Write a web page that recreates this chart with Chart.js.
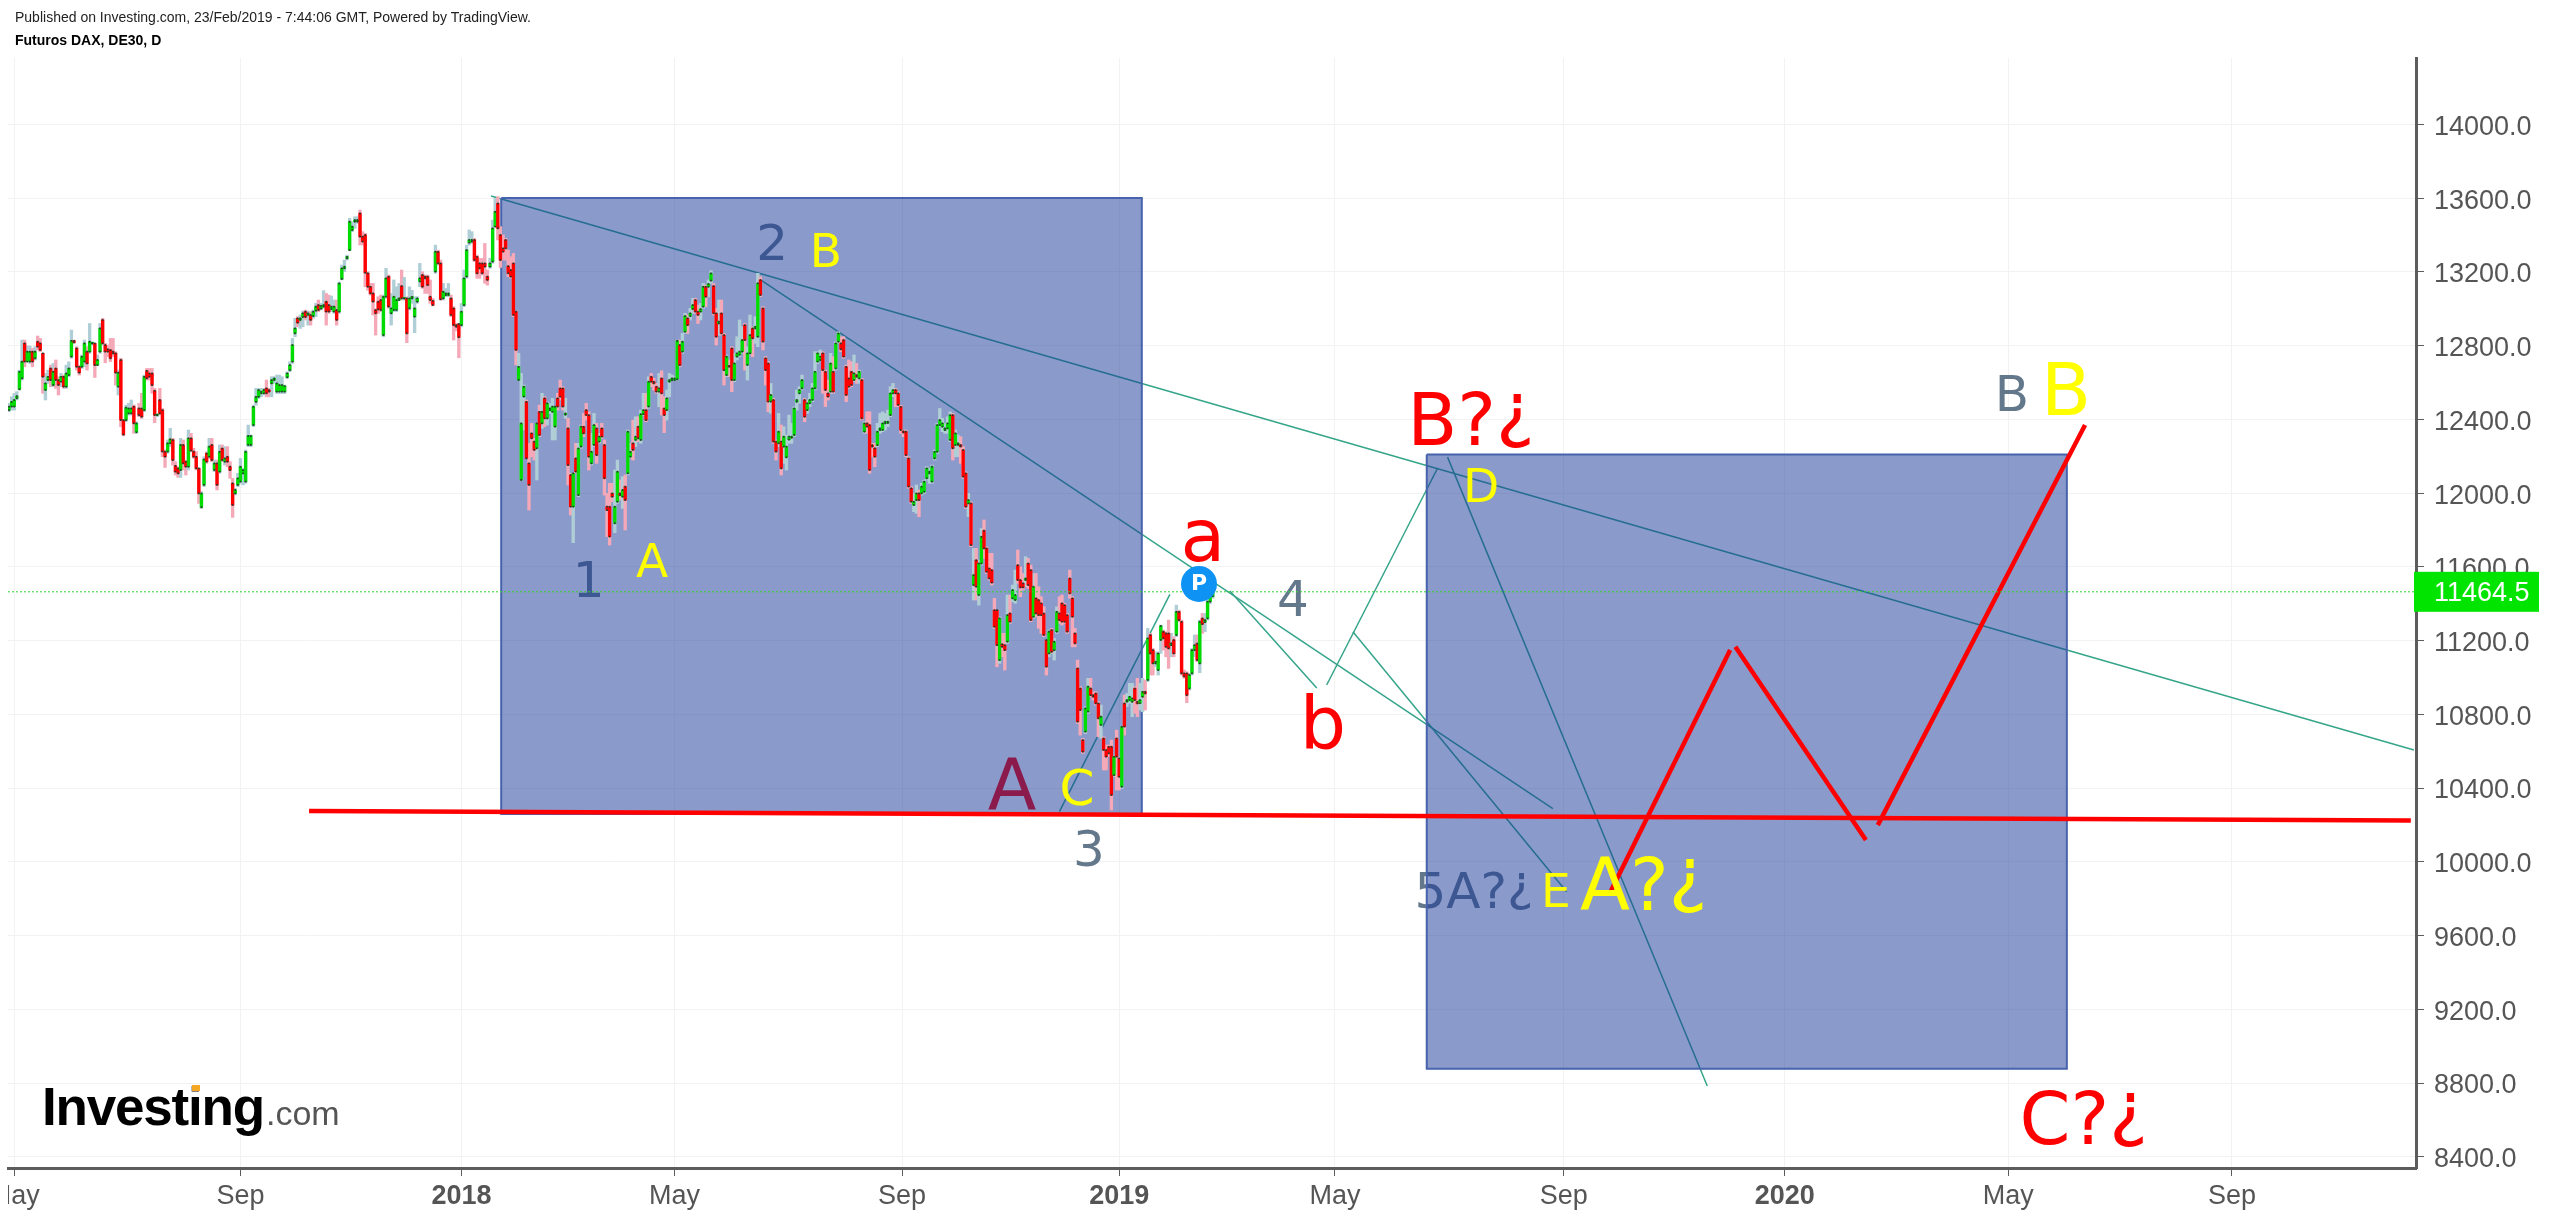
<!DOCTYPE html>
<html>
<head>
<meta charset="utf-8">
<title>Futuros DAX, DE30, D</title>
<style>
    html, body { margin: 0; padding: 0; background: #fff; overflow: hidden; }
    canvas { display: block; }
</style>
<script src="https://cdn.jsdelivr.net/npm/chart.js@4/dist/chart.umd.js"></script>
</head>
<body>
<canvas id="dax" width="2549" height="1220"></canvas>
<script>
'use strict';

// daily bars as [open, high, low, close]
const bars2017 = [
    [12450,12487,12441,12469],[12469,12523,12450,12495],[12469,12541,12450,12505],[12514,12550,12505,12526],[12563,12667,12559,12658],
    [12622,12830,12613,12713],[12812,12830,12685,12713],[12713,12798,12713,12767],[12713,12798,12703,12767],[12767,12785,12685,12713],
    [12731,12794,12722,12767],[12821,12852,12776,12794],[12812,12839,12767,12776],[12758,12758,12541,12631],[12559,12649,12505,12595],
    [12613,12667,12595,12631],[12676,12694,12577,12613],[12586,12703,12577,12658],[12676,12722,12568,12613],[12613,12631,12532,12586],
    [12604,12649,12577,12631],[12631,12640,12568,12577],[12577,12694,12568,12649],[12640,12712,12631,12676],[12740,12884,12731,12826],
    [12826,12830,12812,12817],[12785,12794,12667,12685],[12685,12694,12640,12653],[12685,12749,12676,12740],[12713,12830,12685,12812],
    [12767,12794,12667,12703],[12767,12920,12758,12821],[12812,12821,12803,12812],[12812,12812,12627,12694],[12694,12749,12694,12722],
    [12767,12920,12758,12893],[12939,12948,12803,12812],[12803,12812,12707,12767],[12780,12803,12740,12767],[12776,12839,12713,12731],
    [12767,12839,12740,12758],[12758,12767,12586,12653],[12577,12667,12532,12653],[12722,12731,12360,12396],[12396,12396,12310,12317],
    [12396,12477,12387,12463],[12432,12487,12423,12459],[12432,12505,12423,12459],[12469,12478,12324,12378],[12330,12387,12324,12378],
    [12459,12487,12414,12423],[12459,12541,12405,12414],[12450,12640,12441,12631],[12663,12676,12613,12622],[12649,12676,12613,12631],
    [12649,12676,12541,12586],[12555,12568,12382,12423],[12423,12432,12414,12423],[12505,12568,12423,12432],[12450,12459,12197,12225],
    [12225,12234,12139,12197],[12225,12288,12215,12270],[12270,12351,12252,12292],[12288,12297,12152,12179],[12148,12170,12098,12116],
    [12134,12143,12085,12107],[12125,12297,12085,12261],[12261,12288,12125,12161],[12170,12179,12098,12143],[12143,12342,12125,12297],
    [12297,12324,12225,12230],[12225,12243,12188,12197],[12197,12225,12125,12134],[12134,12134,11944,11998],[11923,12008,11917,11998],
    [12044,12197,12035,12183],[12215,12224,12161,12170],[12197,12297,12188,12252],[12261,12297,12170,12179],[12125,12179,12116,12161],
    [12161,12179,12017,12044],[12116,12261,12107,12224],[12242,12261,12170,12179],[12170,12252,12152,12188],[12197,12252,12143,12170],
    [12143,12170,12080,12125],[12053,12080,11868,11935],[11998,12025,11990,12017],[12044,12107,12035,12080],[12062,12188,12053,12143],
    [12107,12134,12044,12125],[12062,12234,12053,12224],[12261,12369,12252,12310],[12261,12315,12252,12310],[12369,12477,12360,12468],
    [12495,12568,12477,12522],[12522,12568,12513,12559],[12541,12568,12522,12550],[12541,12568,12532,12559],[12568,12613,12522,12541],
    [12559,12568,12522,12550],[12595,12631,12522,12613],[12613,12631,12595,12622],[12550,12640,12540,12595],[12550,12640,12540,12586],
    [12550,12631,12540,12586],[12550,12586,12540,12580],[12628,12658,12622,12649],[12667,12712,12658,12694],[12713,12839,12703,12803],
    [12866,12948,12848,12893],[12948,12957,12902,12924],[12939,12966,12893,12948],[12955,12988,12902,12975],[12984,12993,12939,12955],
    [12966,12988,12911,12975],[12966,12984,12911,12939],[12960,12993,12948,12984],[12989,13029,12957,13011],[13020,13047,12984,12993],
    [13000,13029,12993,13015],[13011,13098,13002,13020],[13038,13083,12911,12984],[13020,13074,12975,12984],[12998,13069,12984,13011],
    [12984,13047,12975,13011],[12993,13047,12911,12939],[12984,13145,12975,13137],[13161,13237,13156,13219],[13219,13264,13201,13228],
    [13273,13291,13264,13282],[13318,13490,13315,13472],[13427,13472,13418,13445],[13472,13499,13436,13481],[13472,13499,13463,13481],
    [13517,13535,13346,13391],[13391,13418,13346,13364],[13400,13409,13119,13195],[13192,13201,13100,13119],[13119,13137,13074,13083],
    [13083,13137,12966,13038],[12993,13000,12857,12975],[13038,13065,12975,12996],[13047,13074,12984,12993],[12857,13074,12848,13065],
    [13065,13219,13056,13165],[13174,13183,13002,13011],[12975,13083,12911,13002],[12993,13156,12984,13065],[12993,13119,12984,13047],
    [13047,13137,13047,13056],[13123,13210,13047,13056],[13056,13170,13047,13056],[13056,13065,12816,12866],[13002,13119,12993,13056],
    [13056,13100,13029,13065],[12957,13065,12870,13002],[13038,13065,13029,13056],[13148,13246,13119,13165],[13183,13201,13110,13119],
    [13174,13183,13083,13165],[13174,13183,13083,13128],[13065,13156,13029,13047],[13043,13056,13015,13020],[13201,13345,13192,13309],
    [13309,13318,13237,13246],[13246,13264,13047,13051],[13056,13137,13047,13092],[13074,13110,13065,13083],[13074,13137,13065,13083],
    [13056,13074,12957,12966],[13002,13011,12830,12911],[12911,12920,12880,12902],[12917,12920,12734,12845]
];
const bars2018 = [
    [12911,13029,12902,12984],[13020,13210,13011,13165],[13174,13345,13165,13318],[13358,13427,13345,13373],[13364,13418,13354,13373],
    [13373,13382,13255,13264],[13282,13291,13165,13192],[13246,13273,13165,13219],[13246,13273,13183,13192],[13246,13354,13138,13228],
    [13174,13210,13128,13156],[13228,13273,13219,13246],[13255,13481,13246,13436],[13445,13598,13445,13526],[13571,13608,13373,13436],
    [13400,13445,13224,13264],[13327,13400,13264,13309],[13373,13382,13264,13327],[13231,13318,13174,13192],[13210,13282,13165,13174],
    [13246,13300,12957,12966],[12984,12989,12695,12776],[12613,12758,12613,12685],[12071,12649,12071,12378],[12523,12586,12342,12577],
    [12495,12505,12188,12188],[12161,12270,11908,12044],[12324,12378,12197,12297],[12279,12297,12179,12234],[12243,12378,12071,12378],
    [12441,12477,12306,12315],[12378,12541,12351,12441],[12514,12523,12360,12405],[12405,12495,12369,12487],[12450,12487,12432,12459],
    [12441,12514,12288,12469],[12360,12469,12288,12469],[12514,12541,12450,12469],[12568,12613,12505,12523],[12568,12577,12450,12469],
    [12425,12514,12405,12432],[12351,12405,12044,12152],[12098,12107,11881,11926],[11926,12107,11731,12107],[12188,12270,12107,12116],
    [11989,12270,11980,12242],[12252,12369,12243,12360],[12360,12432,12306,12324],[12450,12487,12396,12423],[12423,12441,12125,12197],
    [12161,12324,12152,12224],[12261,12432,12252,12369],[12351,12378,12161,12206],[12279,12324,12270,12306],[12351,12378,12297,12306],
    [12261,12288,11989,12080],[11926,11998,11764,11908],[11926,12053,11718,11764],[11998,12053,11953,11980],[11836,12125,11785,11926],
    [11953,12179,11944,12116],[11998,12071,11962,11989],[11980,12089,11917,12017],[12035,12098,11800,11962],[12107,12342,12098,12333],
    [12197,12270,12188,12224],[12270,12396,12179,12234],[12288,12414,12252,12306],[12360,12414,12279,12297],[12288,12450,12270,12428],
    [12428,12541,12420,12450],[12450,12541,12387,12396],[12469,12631,12460,12604],[12631,12649,12577,12604],[12604,12622,12559,12595],
    [12577,12595,12541,12550],[12550,12649,12468,12568],[12622,12663,12423,12541],[12459,12523,12328,12423],[12450,12559,12396,12514],
    [12604,12649,12523,12613],[12613,12640,12613,12622],[12613,12631,12613,12622],[12617,12830,12613,12826],[12803,12830,12685,12694],
    [12767,12866,12758,12821],[12875,12975,12866,12960],[12948,12966,12866,12911],[12960,13002,12939,12975],[12998,13056,12975,13020],
    [13047,13056,12975,12984],[12984,13020,12920,12966],[12984,13029,12939,12998],[13011,13137,13002,13119],[13119,13128,13011,13065],
    [13119,13156,13065,13134],[13152,13206,13138,13192],[13123,13137,12966,12975],[12975,13002,12803,12848],[12920,13047,12857,12930],
    [12975,13047,12857,12866],[12857,12866,12586,12667],[12640,12749,12631,12740],[12690,12722,12631,12685],[12785,12794,12550,12613],
    [12613,12758,12604,12703],[12740,12848,12722,12758],[12750,12939,12740,12767],[12767,12902,12758,12830],[12911,12920,12667,12830],
    [12695,12794,12613,12758],[12758,12966,12749,12857],[12893,12902,12740,12839],[12893,12957,12812,12902],[12848,13192,12794,13138],
    [13156,13174,13065,13074],[13002,13011,12776,12821],[12731,12740,12586,12667],[12703,12713,12441,12496],[12496,12595,12432,12532],
    [12505,12514,12270,12279],[12279,12288,12179,12225],[12270,12432,12252,12333],[12279,12369,12098,12134],[12252,12360,12161,12306],
    [12194,12315,12125,12252],[12290,12423,12270,12306],[12300,12378,12270,12306],[12315,12468,12306,12459],[12495,12559,12450,12505],
    [12541,12577,12487,12559],[12568,12640,12559,12613],[12505,12514,12387,12414],[12450,12505,12432,12487],[12487,12541,12469,12505],
    [12505,12595,12496,12568],[12568,12767,12559,12658],[12713,12767,12703,12758],[12722,12776,12722,12740],[12758,12767,12541,12667],
    [12658,12667,12469,12559],[12541,12613,12505,12523],[12550,12758,12541,12703],[12658,12740,12541,12550],[12676,12821,12667,12812],
    [12821,12875,12812,12866],[12812,12848,12767,12780],[12830,12848,12731,12740],[12685,12694,12496,12532],[12622,12722,12568,12577],
    [12658,12713,12577,12586],[12613,12749,12604,12649],[12640,12703,12595,12631],[12622,12667,12595,12658],[12613,12622,12396,12405],
    [12333,12387,12324,12378],[12378,12441,12324,12360],[12369,12441,12107,12125],[12260,12270,12197,12252],[12243,12270,12143,12197],
    [12260,12378,12252,12333],[12342,12432,12324,12351],[12342,12441,12333,12378],[12378,12432,12342,12387],[12380,12450,12360,12387],
    [12423,12577,12414,12541],[12541,12595,12523,12559],[12559,12568,12468,12541],[12541,12550,12469,12478],[12468,12477,12324,12342],
    [12335,12342,12306,12328],[12333,12342,12197,12206],[12188,12197,12026,12035],[12026,12035,11944,11953],[11935,11998,11899,11953],
    [11962,12044,11890,11998],[11998,12017,11872,11962],[11998,12053,11989,12035],[12007,12071,11998,12062],[12080,12143,12071,12134],
    [12107,12134,12053,12116],[12062,12152,12053,12143],[12188,12234,12179,12224],[12224,12378,12215,12369],[12369,12459,12360,12396],
    [12360,12405,12333,12378],[12342,12378,12324,12351],[12351,12414,12324,12378],[12288,12441,12279,12423],[12423,12432,12179,12243],
    [12261,12342,12197,12324],[12261,12315,12197,12270],[12261,12306,12161,12252],[12234,12252,12080,12089],[12107,12116,11917,11926],
    [11944,11998,11872,11962],[11944,11953,11709,11718],[11501,11700,11420,11555],[11636,11700,11420,11492],[11447,11636,11392,11618],
    [11618,11808,11609,11763],[11796,11854,11646,11700],[11700,11709,11564,11573],[11591,11673,11528,11537],[11582,11673,11501,11514],
    [11365,11429,11266,11275],[11365,11365,11058,11175],[11094,11329,11076,11320],[11180,11239,11112,11166],[11175,11239,11040,11148],
    [11194,11447,11185,11338],[11347,11447,11293,11302],[11429,11501,11411,11474],[11420,11582,11402,11447],[11609,11691,11510,11528],
    [11528,11600,11438,11488],[11510,11564,11474,11488],[11528,11655,11492,11537],[11618,11646,11483,11501],[11582,11609,11302,11311],
    [11329,11564,11320,11492],[11429,11564,11329,11347],[11420,11492,11266,11338],[11402,11438,11239,11338],[11347,11384,11221,11230],
    [11203,11203,11013,11058],[11130,11257,11112,11248],[11257,11266,11130,11139],[11148,11212,11094,11194],[11248,11383,11239,11356],
    [11347,11438,11293,11311],[11402,11447,11284,11302],[11392,11402,11293,11302],[11338,11347,11239,11248],[11537,11582,11429,11456],
    [11429,11438,11166,11329],[11239,11266,11166,11185],[11049,11094,10751,10760],[10940,10950,10687,10823],[10660,10669,10588,10597],
    [10706,10841,10696,10832],[10814,10995,10805,10950],[10940,10995,10895,10904],[10904,10922,10877,10895],[10913,10922,10850,10859],
    [10859,10868,10678,10778],[10742,10850,10669,10787],[10669,10678,10498,10606],[10606,10633,10498,10570],[10624,10633,10570,10588],
    [10624,10660,10281,10362],[10470,10579,10461,10570]
];
const bars2019 = [
    [10669,10714,10389,10570],[10561,10570,10389,10461],[10407,10732,10398,10732],[10859,10904,10687,10733],[10868,10913,10841,10877],
    [10877,10968,10859,10895],[10868,10968,10787,10886],[10940,10950,10805,10877],[10868,10995,10787,10859],[10860,10968,10823,10877],
    [10895,10995,10814,10922],[10922,10986,10823,10913],[10986,11266,10977,11212],[11230,11239,11013,11130],[11148,11157,11013,11076],
    [11076,11139,11058,11085],[11040,11139,11013,11130],[11203,11284,11130,11279],[11248,11257,11148,11212],[11239,11248,11112,11166],
    [11239,11311,11049,11157],[11175,11239,11112,11185],[11203,11221,11112,11130],[11230,11392,11221,11356],[11356,11365,11302,11311],
    [11302,11311,11013,11022],[11022,11040,10995,11005],[11022,11031,10863,10904],[10940,11022,10931,11013],[11022,11157,11013,11148],
    [11148,11230,11112,11175],[11184,11230,11085,11094],[11076,11311,11026,11302],[11320,11347,11239,11289],[11300,11347,11248,11311],
    [11320,11420,11311,11411],[11411,11450,11400,11440],[11440,11480,11430,11464.5]
];
const lastPrice = 11464.5;

// axes: x counts bars (future bars continue the count), y is price
const xTickBars = [2, 89, 174, 256, 343.5, 427, 510, 598, 683, 769, 855];
const xTickLabels = ['May', 'Sep', '2018', 'May', 'Sep', '2019', 'May', 'Sep', '2020', 'May', 'Sep'];
const yTickPrices = [8400, 8800, 9200, 9600, 10000, 10400, 10800, 11200, 11600, 12000, 12400, 12800, 13200, 13600, 14000];

// boxes: [first bar, last bar, top price, bottom price]
const boxes = [
    [189.3, 435.7, 13600, 10259],
    [545.3, 791.5, 12209, 8877]
];
// thin trend lines and thick red lines: [bar, price, bar, price]
const thinLines = [
    [185.4, 13611, 925, 10606],
    [288.8, 13159, 593.8, 10288],
    [469.6, 11469, 503, 10943],
    [506.8, 10959, 549.5, 12136],
    [516.9, 11248, 599.1, 9838],
    [553.3, 12195, 653.2, 8784],
    [404, 10272, 446.5, 11451]
];
const redLines = [
    [115.4, 10275, 923.8, 10224],
    [616, 9838, 662, 11149],
    [664, 11166, 714.2, 10118],
    [718.8, 10199, 798.5, 12369]
];

// wave labels: text, bar, price
const noteTexts = ['1', '2', '3', '4', '5A?¿', 'A', 'A', 'B', 'C', 'a', 'b', 'B?¿', 'D', 'E', 'A?¿', 'B', 'B', 'C?¿'];
const noteBars = [222.9, 293.5, 415.4, 493.8, 563.5, 385.8, 247.3, 314.2, 410.8, 459.2, 505.4, 562.3, 566.2, 595, 628.8, 770.4, 791.2, 798];
const notePrices = [11528, 13356, 10064, 11420, 9841, 10406, 11631, 13313, 10395, 11753, 10731, 12380, 12038, 9841, 9858, 12532, 12548, 8589];
const pinBar = 457.7;
const pinPrice = 11507;

const SLATE = '#64788c', YELLOW = '#ffff00', RED = '#ff0000';
const noteColors = [SLATE, SLATE, SLATE, SLATE, SLATE, RED, YELLOW, YELLOW, YELLOW, RED, RED, RED, YELLOW, YELLOW, YELLOW, SLATE, YELLOW, RED];
const noteSizes = [50, 50, 50, 50, 50, 71, 47, 47, 50, 73, 73, 73, 47, 47, 73, 50, 73, 73];
// первые шесть подписей лежат под прямоугольниками и просвечивают сквозь них
const notesUnderBoxes = 6;

const bars = bars2017.concat(bars2018, bars2019);
const isUp = (bar) => bar[3] >= bar[0];

function lineDatasets(list, color, width, order) {
    return list.map((l) => ({
        type: 'scatter',
        data: [{ x: l[0], y: l[1] }, { x: l[2], y: l[3] }],
        showLine: true,
        borderColor: color,
        borderWidth: width,
        pointRadius: 0,
        fill: false,
        order,
    }));
}

function boxDatasets() {
    return boxes.map((b) => ({
        type: 'scatter',
        data: [
            { x: b[0], y: b[2] }, { x: b[1], y: b[2] }, { x: b[1], y: b[3] },
            { x: b[0], y: b[3] }, { x: b[0], y: b[2] },
        ],
        showLine: true,
        borderColor: '#4763ad',
        borderWidth: 2,
        backgroundColor: 'rgba(21, 53, 151, 0.5)',
        pointRadius: 0,
        fill: 'shape',
        order: 50,
    }));
}

const datasets = [
    ...lineDatasets(thinLines, '#35a58a', 1.5, 60),
    ...boxDatasets(),
    {
        // тени свечей
        type: 'bar',
        data: bars.map((b, i) => ({ x: i, y: [b[2], b[1]] })),
        backgroundColor: bars.map((b) => (isUp(b) ? '#b0ced6' : '#f5a9b8')),
        barThickness: 2.7,
        grouped: false,
        order: 40,
    },
    {
        // тела свечей
        type: 'bar',
        data: bars.map((b, i) => ({ x: i, y: [b[0], b[3]] })),
        backgroundColor: bars.map((b) => (isUp(b) ? '#00dc00' : '#ff0000')),
        barThickness: 2.7,
        minBarLength: 1,
        grouped: false,
        order: 30,
    },
    {
        // тёмные кончики тел
        type: 'scatter',
        data: bars.flatMap((b, i) => [{ x: i, y: b[0] }, { x: i, y: b[3] }]),
        pointStyle: 'rect',
        pointRadius: 1.2,
        pointBorderWidth: 0,
        pointBackgroundColor: '#26392f',
        order: 20,
    },
    ...lineDatasets(redLines, '#ff0000', 4.5, 10),
    {
        // линия последней цены
        type: 'scatter',
        data: [{ x: -0.4, y: lastPrice }, { x: 925.8, y: lastPrice }],
        showLine: true,
        borderColor: '#2fd32f',
        borderWidth: 1,
        borderDash: [2, 2],
        pointRadius: 0,
        order: 5,
    },
    {
        type: 'scatter',
        data: [{ x: pinBar, y: pinPrice }],
        pointRadius: 18,
        pointBorderWidth: 0,
        pointBackgroundColor: '#0e93f5',
        order: 1,
    },
];

function drawNotes(chart, from, to) {
    const { ctx, scales } = chart;
    ctx.save();
    ctx.textAlign = 'left';
    ctx.textBaseline = 'middle';
    for (let i = from; i < to; i++) {
        const size = noteSizes[i];
        ctx.font = size + 'px "DejaVu Sans"';
        ctx.fillStyle = noteColors[i];
        const text = noteTexts[i];
        const x = scales.x.getPixelForValue(noteBars[i]) - ctx.measureText(text).width / 2;
        const y = scales.y.getPixelForValue(notePrices[i]) + 3.5;
        // "¿" в оригинале стоит на базовой линии, а не спускается под неё
        const head = text.replace('¿', '');
        ctx.fillText(head, x, y);
        if (head !== text) ctx.fillText('¿', x + ctx.measureText(head).width, y - size * 0.155);
    }
    ctx.restore();
}

const notesPlugin = {
    id: 'notes',
    beforeDatasetsDraw(chart) {
        drawNotes(chart, 0, notesUnderBoxes);
    },
    afterDatasetsDraw(chart) {
        drawNotes(chart, notesUnderBoxes, noteTexts.length);
        const { ctx, scales } = chart;
        ctx.save();
        ctx.font = 'bold 22px "DejaVu Sans"';
        ctx.fillStyle = '#fff';
        ctx.textAlign = 'center';
        ctx.textBaseline = 'middle';
        ctx.fillText('P', scales.x.getPixelForValue(pinBar), scales.y.getPixelForValue(pinPrice));
        ctx.restore();
    },
};

const framePlugin = {
    id: 'frame',
    afterDraw(chart) {
        const { ctx, scales } = chart;
        ctx.save();

        // "May" обрезан по левому краю шкалы
        ctx.fillStyle = '#fff';
        ctx.fillRect(0, 1170, 8, 50);

        // метка последней цены на шкале
        const y = scales.y.getPixelForValue(lastPrice);
        ctx.fillStyle = '#00e400';
        ctx.fillRect(2414, y - 20, 125, 40);
        ctx.fillStyle = '#fff';
        ctx.font = '27px "Liberation Sans"';
        ctx.textBaseline = 'middle';
        ctx.fillText(lastPrice.toFixed(1), 2434, y + 2);

        // шапка
        ctx.fillStyle = '#222';
        ctx.textBaseline = 'alphabetic';
        ctx.font = '14px "Liberation Sans"';
        ctx.fillText('Published on Investing.com, 23/Feb/2019 - 7:44:06 GMT, Powered by TradingView.', 15, 22);
        ctx.font = 'bold 14px "Liberation Sans"';
        ctx.fillStyle = '#000';
        ctx.fillText('Futuros DAX, DE30, D', 15, 45);

        // логотип
        ctx.fillStyle = '#000';
        ctx.font = 'bold 53px "Liberation Sans"';
        ctx.letterSpacing = '-1.2px';
        ctx.fillText('Investing', 42, 1125);
        ctx.letterSpacing = '0px';
        ctx.fillStyle = '#555';
        ctx.font = '34px "Liberation Sans"';
        ctx.fillText('.com', 266, 1125);
        ctx.fillStyle = '#f5a623';
        ctx.fillRect(192, 1085, 8, 6);
        ctx.restore();
    },
};

new Chart(document.getElementById('dax').getContext('2d'), {
    type: 'scatter',
    data: { datasets },
    plugins: [notesPlugin, framePlugin],
    options: {
        responsive: false,
        animation: false,
        events: [],
        layout: { autoPadding: false, padding: { left: 8, top: 58, right: 0, bottom: 0 } },
        plugins: { legend: { display: false }, tooltip: { enabled: false } },
        scales: {
            x: {
                type: 'linear',
                min: -0.4,
                max: 925.8,
                offset: false,
                afterBuildTicks(scale) {
                    scale.ticks = xTickBars.map((value) => ({ value }));
                },
                afterFit(scale) {
                    // первая подпись не должна сдвигать область графика
                    scale.height = 52;
                    scale.paddingLeft = 0;
                    scale.paddingRight = 0;
                },
                grid: { color: '#f2f2f2', tickColor: '#5c5c5c', tickLength: 8, offset: false },
                border: { color: '#5c5c5c', width: 3 },
                ticks: {
                    autoSkip: false,
                    maxRotation: 0,
                    padding: 4,
                    color: '#555',
                    font(ctx) {
                        const isYear = ctx.tick && /^\d+$/.test(ctx.tick.label);
                        return { family: '"Liberation Sans"', size: 27, weight: isYear ? 'bold' : 'normal' };
                    },
                    callback: (value, index) => xTickLabels[index],
                },
            },
            y: {
                type: 'linear',
                position: 'right',
                min: 8339,
                max: 14360,
                afterBuildTicks(scale) {
                    scale.ticks = yTickPrices.map((value) => ({ value }));
                },
                afterFit(scale) {
                    scale.width = 133;
                    scale.paddingTop = 0;
                    scale.paddingBottom = 0;
                },
                grid: { color: '#f2f2f2', tickColor: '#5c5c5c', tickLength: 8 },
                border: { color: '#5c5c5c', width: 3 },
                ticks: {
                    autoSkip: false,
                    padding: 10,
                    labelOffset: 3,
                    color: '#555',
                    font: { family: '"Liberation Sans"', size: 27 },
                    callback: (value) => value.toFixed(1),
                },
            },
        },
    },
});
</script>
</body>
</html>
